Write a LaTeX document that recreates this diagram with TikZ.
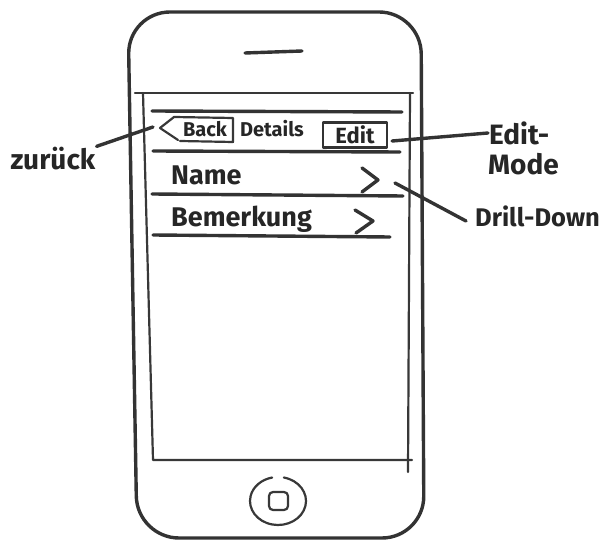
\documentclass[tikz,border=0pt]{standalone}
\usepackage{fontspec}
\setmainfont{Fira Sans}
\usepackage{tikz}

\begin{document}
\begin{tikzpicture}[x=1pt,y=-1pt,line cap=round,line join=round,
  pen/.style={draw=black!80,line width=3.4pt},
  thinpen/.style={draw=black!78,line width=2.2pt},
  every node/.style={text=black!85,inner sep=1pt},
  labeltext/.style={font=\bfseries\fontsize{28}{30}\selectfont},
  rowtext/.style={font=\bfseries\fontsize{27}{29}\selectfont},
  bartext/.style={font=\bfseries\fontsize{20}{22}\selectfont}]
\useasboundingbox (0,0) rectangle (603,545);
% phone body
\draw[pen,rounded corners=42] (128,12) -- (421,12) -- (424,538) -- (137,538) -- cycle;
\draw[pen] (245,53) -- (302,51);
% screen
\draw[thinpen] (135,93) -- (413,93);
\draw[thinpen] (143,93) -- (153,460) -- (412,460);
\draw[thinpen] (410,93) -- (408,472);
% home button
\draw[thinpen] ([shift={(282:28 and 24)}]278,501) arc [start angle=282,end angle=618,x radius=28,y radius=24];
\draw[thinpen,rounded corners=4] (269,492) rectangle (288,510);
% navigation bar
\draw[pen] (152,111) -- (402,112);
\draw[pen] (153,151) -- (400,152);
\draw[thinpen] (178,140) -- (160,128) -- (174,117) -- (233,118) -- (233,142) -- (180,141);
\node[bartext] (back) at (205,129) {Back};
\node[bartext] (details) at (272,129) {Details};
\node[font=\bfseries\fontsize{22}{24}\selectfont,draw=black!80,line width=2.2pt,minimum width=64,minimum height=25,inner sep=0pt] (edit) at (355,135) {Edit};
% rows
\node[rowtext,anchor=west] (name) at (170,175) {Name};
\draw[pen] (362,168) -- (378,180) -- (362,192);
\draw[pen] (152,194) -- (403,196);
\node[rowtext,anchor=west] (bemerkung) at (170,219) {Bemerkung};
\draw[pen] (355,210) -- (373,221) -- (356,233);
\draw[pen] (153,235) -- (390,237);
\coordinate (backtip) at (153,127);
\coordinate (namechev) at (395,183);
% labels
\node[labeltext] (zurueck) at (53,159) {zurück};
\node[labeltext,anchor=west] (editmode) at (488,133) {Edit-};
\node[labeltext,anchor=west] (mode) at (487,164) {Mode};
\node[font=\bfseries\fontsize{25.5}{27}\selectfont,anchor=west] (drill) at (474,216) {Drill-Down};
\draw[pen] (zurueck.north east) -- (backtip);
\draw[pen] ([xshift=4pt,yshift=-6pt]edit.east) -- (editmode.west);
\draw[pen] (namechev) -- ([xshift=-8pt,yshift=-5pt]drill.west);
\end{tikzpicture}
\end{document}
